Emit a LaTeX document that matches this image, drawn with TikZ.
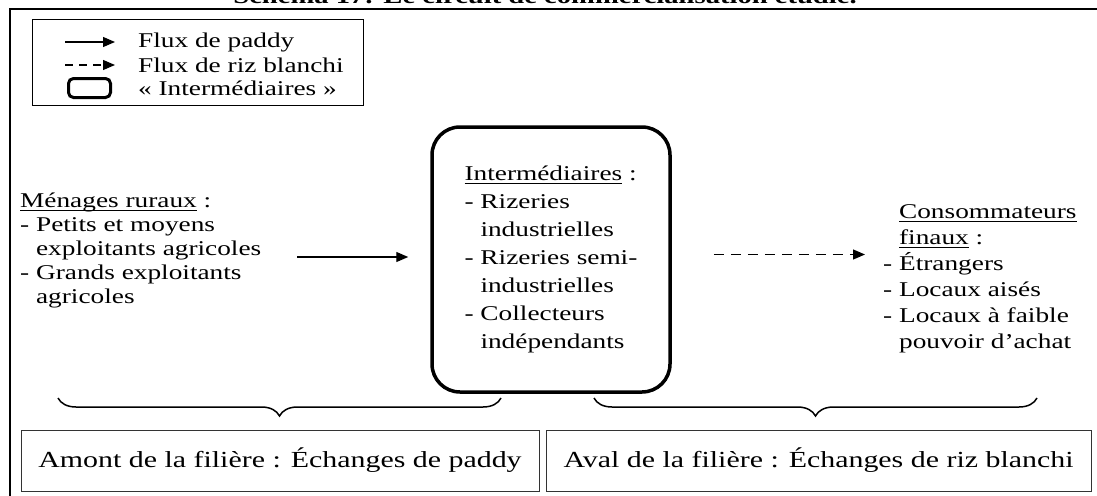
\documentclass[tikz,border=0pt]{standalone}
\usepackage{fontspec}
\setmainfont{Liberation Serif}[FakeStretch=1.3]
\usepackage{tikz}
\usetikzlibrary{arrows.meta,positioning,decorations.pathreplacing}
\newcommand\souligne[1]{\leavevmode\setbox0\hbox{#1}\rlap{\rule[-3.5pt]{\wd0}{1pt}}\box0\relax}

\begin{document}
\begin{tikzpicture}[x=1pt,y=-1pt,
    every node/.style={font=\fontsize{21}{24}\selectfont,inner sep=0pt},
    txt/.style={align=left,anchor=north west},
    legtxt/.style={anchor=west},
    inter/.style={draw,line width=3.5pt,rounded corners=28pt,
                  minimum width=238pt,minimum height=265pt,align=left,
                  font=\fontsize{21}{28}\selectfont},
    zone/.style={draw=black!80,line width=1pt,minimum height=61pt,
                 font=\fontsize{23}{26}\selectfont},
    paddy/.style={-{Triangle[length=12pt,width=10pt]},line width=1.2pt},
    riz/.style={paddy,dash pattern=on 8pt off 6pt},
    accolade/.style={decorate,decoration={brace,amplitude=18pt,mirror},line width=1.5pt}
  ]
    \useasboundingbox (0,0) rectangle (1097,495);
    % cadre et titre
    \draw[line width=2pt] (10,505) -- (10,9) -- (1105,9);
    \node[font=\bfseries\fontsize{22}{24}\selectfont,anchor=base] (titre) at (545,4)
      {Schéma 17: Le circuit de commercialisation étudié.};
    % legende
    \node[draw,line width=0.8pt,minimum width=331pt,minimum height=86pt,anchor=north west] (legende) at (32,19) {};
    \coordinate (l1) at (65,42);
    \coordinate (l2) at (65,65);
    \node[draw,line width=3pt,rounded corners=5pt,minimum width=42pt,minimum height=19pt,anchor=west] (carre) at (67,88) {};
    \draw[paddy] (l1) -- ++(50,0) coordinate (f1);
    \draw[riz] (l2) -- ++(50,0) coordinate (f2);
    \node[legtxt] (t1) at (138,42) {Flux de paddy};
    \node[legtxt] (t2) at (138,65) {Flux de riz blanchi};
    \node[legtxt] (t3) at (138,88) {« Intermédiaires »};
    % acteurs
    \node[txt] (rural) at (20,193) {\souligne{Ménages ruraux} :\\- Petits et moyens\\\phantom{- }exploitants agricoles\\- Grands exploitants\\\phantom{- }agricoles};
    \node[inter] (inter) at (551,259.5) {\souligne{Intermédiaires} :\\- Rizeries\\\phantom{- }industrielles\\- Rizeries semi-\\\phantom{- }industrielles\\- Collecteurs\\\phantom{- }indépendants};
    \node[txt,font=\fontsize{21}{26}\selectfont] (conso) at (883,204) {\phantom{- }\souligne{Consommateurs}\\\phantom{- }\souligne{finaux} :\\- Étrangers\\- Locaux aisés\\- Locaux à faible\\\phantom{- }pouvoir d’achat};
    \draw[paddy] ([xshift=-133pt,yshift=2.5pt]inter.west) -- ([xshift=-22pt,yshift=2.5pt]inter.west);
    \draw[riz,dash pattern=on 10pt off 7pt] ([xshift=42pt,yshift=5pt]inter.east) -- ([xshift=-18pt,yshift=5pt]conso.west |- inter.east);
    % filiere
    \node[zone,minimum width=518pt] (amont) at (280,460.5) {Amont de la filière : Échanges de paddy};
    \node[zone,minimum width=545pt,right=6pt of amont] (aval) {Aval de la filière : Échanges de riz blanchi};
    \draw[accolade] (58,398) -- (501,398);
    \draw[accolade] (594,398) -- (1037,398);
  \end{tikzpicture}
\end{document}
